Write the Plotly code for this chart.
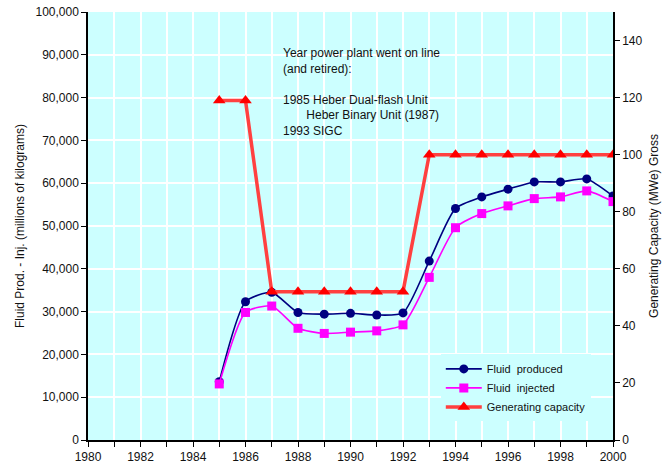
import plotly.graph_objects as go

years = list(range(1985, 2001))
fluid_produced = [13600, 32300, 34500, 29800, 29400, 29600, 29200, 29700,
                  41800, 54100, 56800, 58600, 60300, 60300, 61000, 57000]
fluid_injected = [13100, 29800, 31300, 26100, 24900, 25200, 25500, 26900,
                  38000, 49600, 52900, 54700, 56400, 56800, 58200, 55700]
gen_capacity = [119, 119, 52, 52, 52, 52, 52, 52,
                100, 100, 100, 100, 100, 100, 100, 100]

FONT = "Liberation Sans, Arial, sans-serif"
BG = "#CCFFFF"

fig = go.Figure()
fig.add_trace(go.Scatter(
    x=years, y=fluid_produced, name="Fluid  produced", mode="lines+markers",
    line=dict(color="#000080", width=1.6, shape="spline", smoothing=0.6),
    marker=dict(symbol="circle", size=9, color="#000080"),
))
fig.add_trace(go.Scatter(
    x=years, y=fluid_injected, name="Fluid  injected", mode="lines+markers",
    line=dict(color="#FF00FF", width=1.6, shape="spline", smoothing=0.6),
    marker=dict(symbol="square", size=9, color="#FF00FF"),
))
fig.add_trace(go.Scatter(
    x=years, y=gen_capacity, name="Generating capacity", mode="lines+markers",
    yaxis="y2",
    line=dict(color="#FF4040", width=3.5),
    marker=dict(symbol="triangle-up", size=11, color="#FF0000"),
))

annotation_text = (
    "Year power plant went on line<br>(and retired):<br><br>"
    "1985 Heber Dual-flash Unit<br>"
    "\u00a0\u00a0\u00a0\u00a0\u00a0\u00a0\u00a0Heber Binary Unit (1987)<br>"
    "1993 SIGC"
)
fig.add_annotation(
    x=0.368, y=0.925, xref="paper", yref="paper", text=annotation_text,
    showarrow=False, xanchor="left", yanchor="top", align="left",
    font=dict(family=FONT, size=12, color="#111111"),
)

fig.update_layout(
    width=668, height=467,
    margin=dict(l=88, r=55, t=12, b=27, autoexpand=False),
    paper_bgcolor="white", plot_bgcolor=BG,
    font=dict(family=FONT, size=12, color="#111111"),
    showlegend=True,
    legend=dict(x=0.672, y=0.2, xanchor="left", yanchor="top",
                bgcolor=BG, font=dict(family=FONT, size=11, color="#111111"),
                itemwidth=36, tracegroupgap=1),
    xaxis=dict(
        range=[1980, 2000], dtick=2, tick0=1980, showgrid=True,
        gridcolor="white", gridwidth=2, ticks="outside", ticklen=5,
        tickcolor="black", showline=True, linecolor="black", linewidth=1.5,
        zeroline=False, automargin=False,
        minor=dict(dtick=1, showgrid=True, gridcolor="white", gridwidth=2,
                   ticks="outside", ticklen=5, tickcolor="black"),
    ),
    yaxis=dict(
        range=[0, 100000], dtick=10000, tickformat=",", showgrid=True,
        gridcolor="white", gridwidth=2, ticks="outside", ticklen=5,
        tickcolor="black", showline=True, linecolor="black", linewidth=1.5,
        zeroline=False, automargin=False,
        title=dict(text="Fluid Prod. - Inj. (millions of kilograms)",
                   font=dict(size=12), standoff=8),
    ),
    yaxis2=dict(
        range=[0, 150], tickvals=[0, 20, 40, 60, 80, 100, 120, 140],
        overlaying="y", side="right", showgrid=False,
        ticks="outside", ticklen=5, tickcolor="black", showline=True,
        linecolor="black", linewidth=1.5, zeroline=False, automargin=False,
        title=dict(text="Generating Capacity (MWe) Gross",
                   font=dict(size=12), standoff=8),
    ),
)

fig.write_html(
    "out.html",
    config={"displayModeBar": False, "displaylogo": False},
    post_script="document.body.style.margin='0';document.body.style.overflow='hidden';",
)
